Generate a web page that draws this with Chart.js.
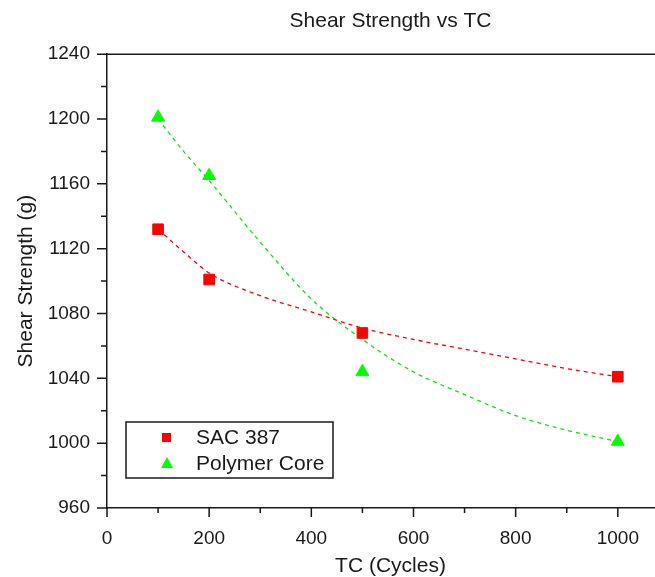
<!DOCTYPE html>
<html>
<head>
<meta charset="utf-8">
<script src="https://cdn.jsdelivr.net/npm/chart.js@4.4.1/dist/chart.umd.min.js"></script>
<style>
  html, body { margin: 0; padding: 0; background: #fff; overflow: hidden; }
  #wrap { width: 700px; height: 577px; }
</style>
</head>
<body>
<div id="wrap"><canvas id="chart" width="700" height="577"></canvas></div>
<script>
// measured points
const tcCycles = [100, 200, 500, 1000];
const sacStrength = [1132, 1101, 1068, 1041];
const polymerStrength = [1201, 1165, 1044, 1001];

// dashed fit curves
const fitCycles = [100, 150, 200, 300, 400, 500, 600, 700, 800, 900, 1000];
const sacFit = [1132, 1118, 1105, 1091, 1081, 1071, 1064, 1058, 1052, 1046, 1041];
const polymerFit = [1200, 1180, 1162, 1124, 1089, 1064, 1044, 1030, 1017, 1008, 1001];

const xMajorTicks = [0, 200, 400, 600, 800, 1000];
const xMinorTicks = [100, 300, 500, 700, 900, 1100];
const yMajorTicks = [960, 1000, 1040, 1080, 1120, 1160, 1200, 1240];
const yMinorTicks = [980, 1020, 1060, 1100, 1140, 1180, 1220];

const RED = "#ff0000";
const GREEN = "#00ff00";
const INK = "#1a1a1a";
const FONT = "'Liberation Sans', Arial, sans-serif";

const toPoints = (xs, ys) => xs.map((x, i) => ({ x: x, y: ys[i] }));

// frame line on top and outward tick marks
const axisDecor = {
    id: "axisDecor",
    afterDraw(chart) {
        const { ctx, chartArea } = chart;
        const xs = chart.scales.x;
        const ys = chart.scales.y;
        ctx.save();
        ctx.strokeStyle = INK;
        ctx.lineWidth = 1.5;
        ctx.beginPath();
        ctx.moveTo(chartArea.left, chartArea.top);
        ctx.lineTo(chartArea.right, chartArea.top);
        ctx.lineTo(chartArea.right, chartArea.bottom);
        ctx.stroke();

        ctx.beginPath();
        xMajorTicks.forEach(v => {
            const px = xs.getPixelForValue(v);
            ctx.moveTo(px, chartArea.bottom);
            ctx.lineTo(px, chartArea.bottom + 9);
        });
        xMinorTicks.forEach(v => {
            const px = xs.getPixelForValue(v);
            ctx.moveTo(px, chartArea.bottom);
            ctx.lineTo(px, chartArea.bottom + 5);
        });
        yMajorTicks.forEach(v => {
            const py = ys.getPixelForValue(v);
            ctx.moveTo(chartArea.left - 10, py);
            ctx.lineTo(chartArea.left, py);
        });
        yMinorTicks.forEach(v => {
            const py = ys.getPixelForValue(v);
            ctx.moveTo(chartArea.left - 6, py);
            ctx.lineTo(chartArea.left, py);
        });
        ctx.stroke();
        ctx.restore();
    }
};

// boxed legend inside the plot, bottom left
const boxLegend = {
    id: "boxLegend",
    afterDraw(chart) {
        const ctx = chart.ctx;
        ctx.save();
        ctx.fillStyle = "#fff";
        ctx.fillRect(126, 422, 207, 56);
        ctx.strokeStyle = INK;
        ctx.lineWidth = 1.5;
        ctx.strokeRect(126, 422, 207, 56);

        // square
        ctx.fillStyle = RED;
        ctx.fillRect(162, 433, 9, 9);
        // triangle
        ctx.fillStyle = GREEN;
        ctx.beginPath();
        ctx.moveTo(167, 457);
        ctx.lineTo(173, 468);
        ctx.lineTo(161, 468);
        ctx.closePath();
        ctx.fill();

        ctx.fillStyle = INK;
        ctx.font = "21px " + FONT;
        ctx.textBaseline = "middle";
        ctx.textAlign = "left";
        ctx.fillText(chart.data.datasets[0].label, 196, 438);
        ctx.fillText(chart.data.datasets[1].label, 196, 464);
        ctx.restore();
    }
};

new Chart(document.getElementById("chart"), {
    type: "scatter",
    data: {
        datasets: [
            {
                label: "SAC 387",
                data: toPoints(tcCycles, sacStrength),
                pointStyle: "rect",
                pointRadius: 7.5,
                backgroundColor: RED,
                borderColor: RED,
                borderWidth: 1
            },
            {
                label: "Polymer Core",
                data: toPoints(tcCycles, polymerStrength),
                pointStyle: "triangle",
                pointRadius: 7.5,
                backgroundColor: GREEN,
                borderColor: GREEN,
                borderWidth: 1
            },
            {
                label: "SAC 387 fit",
                data: toPoints(fitCycles, sacFit),
                showLine: true,
                pointRadius: 0,
                borderColor: RED,
                borderWidth: 1.3,
                borderDash: [4, 4],
                cubicInterpolationMode: "monotone"
            },
            {
                label: "Polymer Core fit",
                data: toPoints(fitCycles, polymerFit),
                showLine: true,
                pointRadius: 0,
                borderColor: "#11e011",
                borderWidth: 1.3,
                borderDash: [4, 4],
                cubicInterpolationMode: "monotone"
            }
        ]
    },
    options: {
        responsive: false,
        animation: false,
        devicePixelRatio: 1,
        layout: { padding: { left: 0, top: 0, right: 26, bottom: 0 } },
        plugins: {
            legend: { display: false },
            tooltip: { enabled: false },
            title: {
                display: true,
                text: "Shear Strength vs TC",
                fullSize: false,
                color: INK,
                font: { family: FONT, size: 21, weight: "normal" },
                padding: { top: 9, bottom: 20 }
            }
        },
        scales: {
            x: {
                type: "linear",
                min: 0,
                max: 1110,
                afterBuildTicks: scale => { scale.ticks = xMajorTicks.map(v => ({ value: v })); },
                afterFit: scale => { scale.height = 69; },
                grid: { display: false },
                border: { display: true, color: INK, width: 1.5 },
                ticks: {
                    color: INK,
                    padding: 11,
                    maxRotation: 0,
                    font: { family: FONT, size: 19 },
                    callback: v => String(v)
                },
                title: {
                    display: true,
                    text: "TC (Cycles)",
                    color: INK,
                    padding: 0,
                    font: { family: FONT, size: 21, lineHeight: 1 }
                }
            },
            y: {
                type: "linear",
                min: 960,
                max: 1240,
                afterBuildTicks: scale => { scale.ticks = yMajorTicks.map(v => ({ value: v })); },
                afterFit: scale => { scale.width = 107; },
                grid: { display: false },
                border: { display: true, color: INK, width: 1.5 },
                ticks: {
                    color: INK,
                    padding: 9,
                    font: { family: FONT, size: 19 },
                    callback: v => String(v)
                },
                title: {
                    display: true,
                    text: "Shear Strength (g)",
                    color: INK,
                    padding: { top: 14, bottom: 0 },
                    font: { family: FONT, size: 21 }
                }
            }
        }
    },
    plugins: [axisDecor, boxLegend]
});
</script>
</body>
</html>
